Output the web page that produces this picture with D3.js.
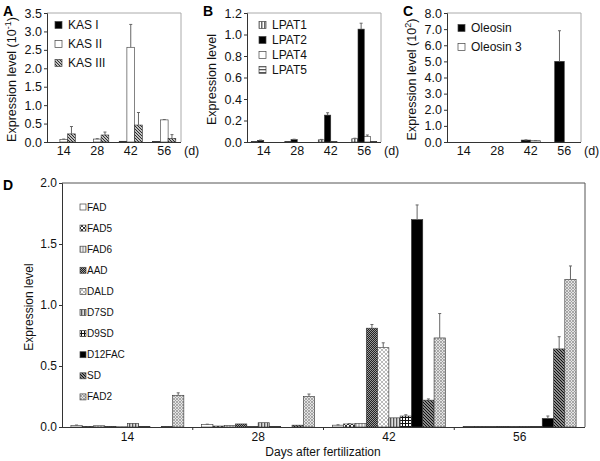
<!DOCTYPE html>
<html><head><meta charset="utf-8">
<script src="https://cdn.jsdelivr.net/npm/d3@7/dist/d3.min.js"></script>
<style>body{margin:0;background:#fff}svg{display:block;font-family:Arial,"Liberation Sans",sans-serif}</style>
</head><body><svg id="c" width="600" height="461"></svg>
<script>
// ---------- data ----------
const days = ["14","28","42","56"];

const kasNames = ["KAS I","KAS II","KAS III"];
const kasI      = [0.0, 0.0, 0.02, 0.01];
const kasIErr   = [0, 0, 0, 0];
const kasII     = [0.07, 0.08, 2.57, 0.60];
const kasIIErr  = [0.01, 0.01, 0.62, 0.01];
const kasIII    = [0.22, 0.19, 0.46, 0.10];
const kasIIIErr = [0.20, 0.08, 0.34, 0.10];
const kasTicks  = [0,0.5,1,1.5,2,2.5,3,3.5];

const lpatNames = ["LPAT1","LPAT2","LPAT4","LPAT5"];
const lpat1    = [0.003, 0.003, 0.02, 0.03];
const lpat1Err = [0, 0, 0.004, 0.005];
const lpat2    = [0.015, 0.022, 0.25, 1.05];
const lpat2Err = [0.003, 0.004, 0.022, 0.055];
const lpat4    = [0, 0, 0.005, 0.05];
const lpat4Err = [0, 0, 0, 0.015];
const lpat5    = [0, 0, 0, 0.003];
const lpat5Err = [0, 0, 0, 0];
const lpatTicks = [0,0.2,0.4,0.6,0.8,1.0,1.2];

const oleNames = ["Oleosin","Oleosin 3"];
const oleosin     = [0, 0, 0.12, 5.0];
const oleosinErr  = [0, 0, 0.01, 1.9];
const oleosin3    = [0, 0, 0.08, 0.0];
const oleosin3Err = [0, 0, 0.01, 0];
const oleTicks = [0,1,2,3,4,5,6,7,8];

const fadNames = ["FAD","FAD5","FAD6","AAD","DALD","D7SD","D9SD","D12FAC","SD","FAD2"];
const fad     = [0.012, 0.02, 0.015, 0.003];  const fadErr    = [0.004, 0.003, 0.003, 0];
const fad5    = [0.005, 0.008, 0.025, 0.003]; const fad5Err   = [0, 0, 0.003, 0];
const fad6    = [0.01, 0.012, 0.03, 0.005];   const fad6Err   = [0, 0, 0, 0];
const aad     = [0.005, 0.025, 0.81, 0.005];  const aadErr    = [0, 0, 0.03, 0];
const dald    = [0.002, 0.003, 0.65, 0.005];  const daldErr   = [0, 0, 0.04, 0];
const d7sd    = [0.03, 0.035, 0.075, 0.005];  const d7sdErr   = [0, 0, 0, 0];
const d9sd    = [0.005, 0.005, 0.09, 0.005];  const d9sdErr   = [0, 0, 0.01, 0];
const d12fac  = [0.0, 0.0, 1.70, 0.07];       const d12facErr = [0, 0, 0.12, 0.02];
const sd      = [0.003, 0.015, 0.22, 0.64];   const sdErr     = [0, 0, 0.01, 0.10];
const fad2    = [0.26, 0.25, 0.73, 1.21];     const fad2Err   = [0.02, 0.02, 0.20, 0.11];
const fadTicks = [0,0.5,1.0,1.5,2.0];

// ---------- patterns ----------
const svg = d3.select("#c");
const defs = svg.append("defs");
function pat(id, size, bg, draw){
  const p = defs.append("pattern").attr("id",id).attr("patternUnits","userSpaceOnUse")
    .attr("width",size).attr("height",size);
  p.append("rect").attr("width",size).attr("height",size).attr("fill",bg);
  draw(p);
}
pat("diag",3,"#fff",p=>{p.append("path").attr("d","M0,0L3,3M-1,2L1,4M2,-1L4,1").attr("stroke","#222").attr("stroke-width",1.1);});
pat("diagSD",3,"#fff",p=>{p.append("path").attr("d","M0,0L3,3M-1,2L1,4M2,-1L4,1").attr("stroke","#111").attr("stroke-width",1.4);});
pat("vstripe",3,"#fff",p=>{p.append("rect").attr("x",0).attr("width",1.5).attr("height",3).attr("fill","#666");});
pat("vstripeD7",3,"#ddd",p=>{p.append("rect").attr("x",0).attr("width",1.3).attr("height",3).attr("fill","#555");});
pat("hstripe",3,"#fff",p=>{p.append("rect").attr("y",0).attr("width",3).attr("height",1.3).attr("fill","#555");});
pat("cross",4,"#fff",p=>{p.append("path").attr("d","M0,0L4,4M4,0L0,4").attr("stroke","#333").attr("stroke-width",1);});
pat("fad6",3,"#bbb",p=>{p.append("rect").attr("x",0).attr("width",1).attr("height",3).attr("fill","#eee");});
pat("checker",2,"#222",p=>{p.append("rect").attr("width",1).attr("height",1).attr("fill","#999");p.append("rect").attr("x",1).attr("y",1).attr("width",1).attr("height",1).attr("fill","#999");});
pat("dald",4,"#fff",p=>{p.append("path").attr("d","M0,0L4,4M4,0L0,4").attr("stroke","#aaa").attr("stroke-width",0.8);});
pat("grid",3,"#fff",p=>{p.append("path").attr("d","M0,0.5H3M0.5,0V3").attr("stroke","#111").attr("stroke-width",1);});
pat("fad2",3,"#e4e4e4",p=>{p.append("path").attr("d","M0,0L3,3M3,0L0,3").attr("stroke","#999").attr("stroke-width",0.8);});

// ---------- generic panel ----------
function panel(o){
  const g = svg.append("g");
  const y = d3.scaleLinear().domain(o.domain).range([o.bottom,o.top]);
  const x0 = d3.scaleBand().domain(days).range([o.left,o.right]).paddingInner(o.pi).paddingOuter(o.pi/2);
  const x1 = d3.scaleBand().domain(o.names).range([0,x0.bandwidth()]);
  g.append("path").attr("d",`M${o.left},${o.top}H${o.right}V${o.bottom}`).attr("fill","none")
    .attr("stroke",o.frame).attr("stroke-width",1);
  o.names.forEach((n,si)=>{
    const vals=o.values[si], errs=o.errors[si];
    days.forEach((d,di)=>{
      const v=vals[di]; if(v<=0) return;
      const bx=x0(d)+x1(n), bw=x1.bandwidth();
      g.append("rect").attr("x",bx).attr("y",y(v)).attr("width",bw).attr("height",Math.max(0,y(0)-y(v)))
        .attr("fill",o.fills[si]).attr("stroke","#333").attr("stroke-width",0.6);
      const e=errs[di];
      if(e>0){
        const cx=bx+bw/2;
        g.append("line").attr("x1",cx).attr("x2",cx).attr("y1",y(v)).attr("y2",y(v+e)).attr("stroke","#666").attr("stroke-width",1);
        g.append("line").attr("x1",cx-1.5).attr("x2",cx+1.5).attr("y1",y(v+e)).attr("y2",y(v+e)).attr("stroke","#666").attr("stroke-width",1);
      }
    });
  });
  const ya = g.append("g").attr("transform",`translate(${o.left},0)`)
    .call(d3.axisLeft(y).tickValues(o.ticks).tickFormat(d3.format(".1f")).tickSize(3).tickPadding(2));
  ya.select(".domain").attr("stroke","#333");
  ya.selectAll(".tick line").attr("stroke","#333");
  ya.selectAll("text").attr("font-size",o.tickFs).attr("fill","#111").attr("font-family","Arial, Liberation Sans, sans-serif");
  const xa = g.append("g").attr("transform",`translate(0,${o.bottom})`)
    .call(d3.axisBottom(x0).tickSize(0).tickPadding(o.xpad));
  xa.select(".domain").attr("stroke","#333").attr("d",`M${o.left},0.5H${o.right}`);
  xa.selectAll("text").attr("font-size",o.tickFs).attr("fill","#111").attr("font-family","Arial, Liberation Sans, sans-serif");
  if(o.sepTicks){
    const step=x0.step();
    days.slice(0,-1).forEach(d=>{
      const sx=x0(d)+x0.bandwidth()+step*o.pi/2;
      g.append("line").attr("x1",sx).attr("x2",sx).attr("y1",o.bottom).attr("y2",o.bottom+3).attr("stroke","#333");
    });
  }
  o.names.forEach((n,si)=>{
    const ly=o.legY+si*o.legDy;
    g.append("rect").attr("x",o.legX).attr("y",ly-o.sq/2).attr("width",o.sq).attr("height",o.sq)
      .attr("fill",o.fills[si]).attr("stroke","#444").attr("stroke-width",0.7);
    g.append("text").attr("x",o.legX+o.sq+o.legGap).attr("y",ly).attr("dy","0.35em")
      .attr("font-size",o.legFs).attr("fill","#111").text(n);
  });
  const t = g.append("text").attr("transform",`translate(${o.ytX},${(o.top+o.bottom)/2+2}) rotate(-90)`)
    .attr("text-anchor","middle").attr("font-size",o.ytFs).attr("fill","#111");
  t.append("tspan").text(o.ytitle);
  if(o.ysup){
    t.append("tspan").text(o.ysup).attr("font-size",9).attr("dy",-5);
    t.append("tspan").text(")").attr("dy",5);
  }
  svg.append("text").attr("x",o.letX).attr("y",o.letY).attr("font-size",14).attr("font-weight","bold").attr("fill","#000").text(o.letter);
  if(o.dLabel){
    svg.append("text").attr("x",o.right+3).attr("y",o.bottom+o.xpad).attr("dy","0.71em").attr("font-size",o.tickFs).attr("fill","#111").text("(d)");
  }
  return {x0,y};
}

panel({letter:"A",letX:3,letY:16,left:47,right:181,top:13,bottom:142,domain:[0,3.5],ticks:kasTicks,pi:0.31,
  names:kasNames,values:[kasI,kasII,kasIII],errors:[kasIErr,kasIIErr,kasIIIErr],
  fills:["#000","#fff","url(#diag)"],frame:"#aaa",xpad:4,dLabel:true,tickFs:12.5,ytFs:12.5,
  legX:55,legY:25,legDy:19,sq:7,legGap:6,legFs:12,
  ytitle:"Expression level (10",ysup:"-1",ytX:16});

panel({letter:"B",letX:203,letY:16,left:247,right:381,top:13,bottom:142,domain:[0,1.2],ticks:lpatTicks,pi:0.254,
  names:lpatNames,values:[lpat1,lpat2,lpat4,lpat5],errors:[lpat1Err,lpat2Err,lpat4Err,lpat5Err],
  fills:["url(#vstripe)","#000","#fff","url(#hstripe)"],frame:"#aaa",xpad:4,dLabel:true,tickFs:12.5,ytFs:12.5,
  legX:259,legY:25,legDy:15,sq:7,legGap:6,legFs:12,
  ytitle:"Expression level",ytX:216});

panel({letter:"C",letX:403,letY:16,left:447,right:581,top:13,bottom:142,domain:[0,8],ticks:oleTicks,pi:0.43,
  names:oleNames,values:[oleosin,oleosin3],errors:[oleosinErr,oleosin3Err],
  fills:["#000","#fff"],frame:"#aaa",xpad:4,dLabel:true,tickFs:12.5,ytFs:12.5,
  legX:458,legY:28,legDy:19,sq:7,legGap:6,legFs:12,
  ytitle:"Expression level (10",ysup:"2",ytX:416});

panel({letter:"D",letX:3,letY:190,left:62,right:585,top:183,bottom:427,domain:[0,2],ticks:fadTicks,pi:0.136,
  names:fadNames,values:[fad,fad5,fad6,aad,dald,d7sd,d9sd,d12fac,sd,fad2],
  errors:[fadErr,fad5Err,fad6Err,aadErr,daldErr,d7sdErr,d9sdErr,d12facErr,sdErr,fad2Err],
  fills:["#fff","url(#cross)","url(#fad6)","url(#checker)","url(#dald)","url(#vstripeD7)","url(#grid)","#000","url(#diagSD)","url(#fad2)"],
  frame:"#555",xpad:5,sepTicks:true,tickFs:12,ytFs:12,
  legX:80,legY:207,legDy:21.1,sq:6,legGap:1,legFs:10,
  ytitle:"Expression level",ytX:33});

svg.append("text").attr("x",323).attr("y",456).attr("text-anchor","middle").attr("font-size",12).attr("fill","#111").text("Days after fertilization");
</script></body></html>
